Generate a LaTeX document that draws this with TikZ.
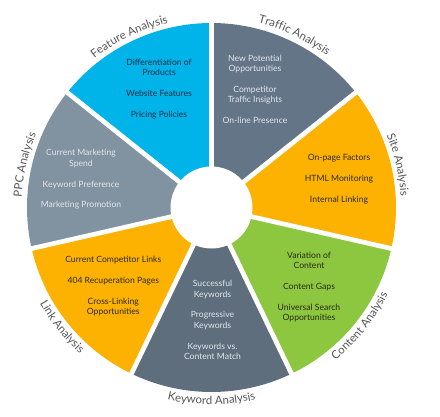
\documentclass[tikz,border=0pt]{standalone}
\usepackage{fontspec}
\setmainfont{Lato}
\usetikzlibrary{decorations.text}
\definecolor{cFeature}{HTML}{00B3E9}
\definecolor{cTraffic}{HTML}{647587}
\definecolor{cSite}{HTML}{FDB100}
\definecolor{cContent}{HTML}{8DC63F}
\definecolor{cKeyword}{HTML}{5E6E7C}
\definecolor{cLink}{HTML}{FDB100}
\definecolor{cPPC}{HTML}{8192A0}
\definecolor{labgray}{HTML}{555555}
\definecolor{txtdark}{HTML}{2A2A1A}
\definecolor{txtnavy}{HTML}{1B2D45}
\definecolor{txtlight}{HTML}{E2E7EB}
\newcommand\labfont{\fontsize{11.4}{13}\selectfont\color{labgray}}
\begin{document}
\begin{tikzpicture}[x=1pt,y=1pt,
  item/.style={align=center, font=\fontsize{8.6}{10.3}\selectfont, inner sep=0pt},
  gap/.style={white, line width=4.7pt},
  toplabel/.style={decorate, decoration={text along path, text align=center, text={|\labfont|#1}}},
]
\useasboundingbox (-211.5,-208.5) rectangle (228.5,207.5);
\coordinate (c) at (0,0);
\def\R{184.5}
% wedges
\foreach \a/\b/\col in {90/141.43/cFeature, 38.57/90/cTraffic, -12.86/38.57/cSite, -64.29/-12.86/cContent, -115.71/-64.29/cKeyword, -167.14/-115.71/cLink, 141.43/192.86/cPPC}
  \fill[\col] (c) -- (\a:\R) arc[start angle=\a, end angle=\b, radius=\R] -- cycle;
% gaps
\foreach \a in {90,141.43,192.86,244.29,-64.29,-12.86,38.57}
  \draw[gap] (c) -- (\a:190);
\fill[white] (c) circle (41);
% texts
\node[item, text=txtnavy] (feature) at (-52.5,118.8) {Differentiation of\\Products\\[10.5pt]Website Features\\[10.5pt]Pricing Policies};
\node[item, text=txtlight] (traffic) at (43.5,118.5) {New Potential\\Opportunities\\[10.5pt]Competitor\\Traffic Insights\\[10.5pt]On-line Presence};
\node[item, text=txtdark] (site) at (127.5,28.5) {On-page Factors\\[10.5pt]HTML Monitoring\\[10.5pt]Internal Linking};
\node[item, text=txtdark] (content) at (97.5,-79.5) {Variation of\\Content\\[10.5pt]Content Gaps\\[10.5pt]Universal Search\\Opportunities};
\node[item, text=txtlight] (keyword) at (1,-112.5) {Successful\\Keywords\\[10.5pt]Progressive\\Keywords\\[10.5pt]Keywords vs.\\Content Match};
\node[item, text=txtdark] (link) at (-98.2,-78.5) {Current Competitor Links\\[10.5pt]404 Recuperation Pages\\[10.5pt]Cross-Linking\\Opportunities};
\node[item, text=txtlight] (ppc) at (-130.5,28) {Current Marketing\\Spend\\[10.5pt]Keyword Preference\\[10.5pt]Marketing Promotion};
% outer labels (clockwise, outside)
\path[toplabel={Feature Analysis}] (155.7:189.5) arc[start angle=155.7, end angle=75.7, radius=189.5];
\path[toplabel={Traffic Analysis}] (104.3:190.5) arc[start angle=104.3, end angle=24.3, radius=190.5];
\path[toplabel={Site Analysis}] (52.9:189.5) arc[start angle=52.9, end angle=-27.1, radius=189.5];
\path[toplabel={PPC Analysis}] (207.1:190) arc[start angle=207.1, end angle=127.1, radius=190];
% outer labels (counter-clockwise, inside)
\path[toplabel={Content Analysis}] (-78.6:196.5) arc[start angle=-78.6, end angle=1.4, radius=196.5];
\path[toplabel={Keyword Analysis}] (230:197) arc[start angle=230, end angle=310, radius=197];
\path[toplabel={Link Analysis}] (178.6:196.5) arc[start angle=178.6, end angle=258.6, radius=196.5];
\end{tikzpicture}
\end{document}
